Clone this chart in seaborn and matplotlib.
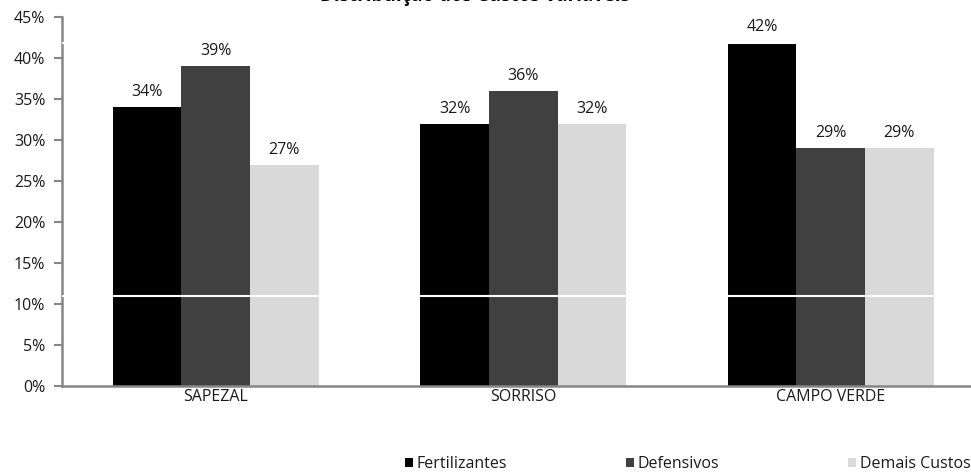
import matplotlib
matplotlib.use("Agg")
import matplotlib.pyplot as plt
import seaborn as sns
import pandas as pd
from matplotlib.patches import Patch

regions = ["SAPEZAL", "SORRISO", "CAMPO VERDE"]
series = ["Fertilizantes", "Defensivos", "Demais Custos"]
fertilizantes = [34, 32, 42]
defensivos = [39, 36, 29]
demais_custos = [27, 32, 29]
y_ticks = [0, 5, 10, 15, 20, 25, 30, 35, 40, 45]
title = "Distribuição dos Custos Variáveis"

colors = ["#000000", "#404040", "#D9D9D9"]

rows = []
for s, vals in zip(series, [fertilizantes, defensivos, demais_custos]):
    for r, v in zip(regions, vals):
        rows.append({"Região": r, "Custo": s, "Valor": v})
df = pd.DataFrame(rows)

sns.set_theme(style="white")
plt.rcParams["font.family"] = ["Open Sans", "DejaVu Sans"]
FS = 11.5
TXT = "#1a1a1a"

fig = plt.figure(figsize=(9.71, 4.75), dpi=100)
W, H = 971, 475
ax = fig.add_axes([62 / W, (H - 386) / H, (W - 62) / W, (386 - 17) / H])

sns.barplot(data=df, x="Região", y="Valor", hue="Custo", order=regions,
            hue_order=series, palette=colors, width=0.67, gap=0,
            saturation=1, ax=ax, legend=False, linewidth=0, errorbar=None)

for cont in ax.containers:
    ax.bar_label(cont, labels=[f"{v:.0f}%" for v in cont.datavalues],
                 padding=5, fontsize=FS, color=TXT, zorder=4)

ax.set_yticks(y_ticks)
ax.set_yticklabels([f"{t}%" for t in y_ticks], fontsize=FS, color=TXT)
ax.set_xticks(range(len(regions)))
ax.set_xticklabels(regions, fontsize=FS, color=TXT)
ax.set_xticks([-0.5, 0.5, 1.5], minor=True)
ax.tick_params(axis="x", which="major", length=0, pad=2)
ax.tick_params(axis="x", which="minor", length=4, width=1.5, color="#868686", direction="out")
ax.tick_params(axis="y", length=6, width=1.5, color="#868686", direction="out", pad=6, left=True)
ax.set_xlabel("")
ax.set_ylabel("")
ax.set_xlim(-0.5, -0.5 + (W - 62) / 307.5)
ax.set_ylim(0, 45)

for side in ["top", "right"]:
    ax.spines[side].set_visible(False)
for side in ["left", "bottom"]:
    ax.spines[side].set_color("#868686")
    ax.spines[side].set_linewidth(1.8)

# rendering artefact lines seen in the reference (above bars/spines, below labels)
ax.axhline(10.97, color="white", lw=1.5, zorder=2.8, xmax=(933 - 55) / (W - 62))
ax.axhline(41.8, color="white", lw=1.5, zorder=2.8)

legend_x = [405, 626, 848]
for name, c, lx in zip(series, colors, legend_x):
    lg = fig.legend([Patch(facecolor=c, edgecolor="none")], [name],
                    loc="center left", bbox_to_anchor=(lx / W, 1 - 464 / H),
                    frameon=False, fontsize=FS, handlelength=0.5, handleheight=0.5,
                    handletextpad=0.25, borderpad=0, borderaxespad=0)
    for t in lg.get_texts():
        t.set_color(TXT)

fig.text(0.489, 1 - 1.0 / H, title, ha="center", va="baseline",
         fontsize=13.5, fontweight="bold", color="#000000")

fig.savefig("out.png", dpi=100)
